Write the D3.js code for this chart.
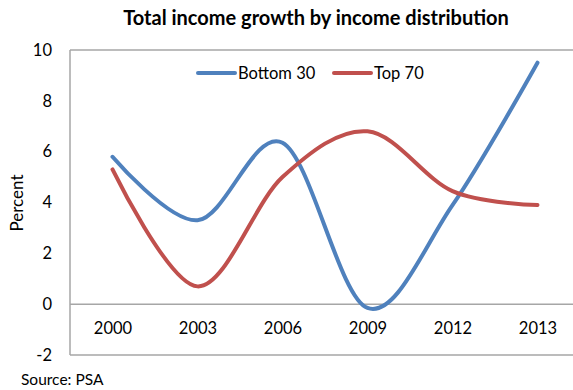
<!DOCTYPE html>
<html>
<head>
<meta charset="utf-8">
<script src="https://cdn.jsdelivr.net/npm/d3@7"></script>
<style>
  html, body { margin: 0; padding: 0; background: #fff; }
  svg { display: block; font-family: Lato, "Open Sans", sans-serif; }
</style>
</head>
<body>
<div id="chart"></div>
<script>
// Income growth (%) by year for the two distribution groups
const years = ["2000", "2003", "2006", "2009", "2012", "2013"];
const bottom30 = [5.8, 3.3, 6.35, -0.15, 3.9, 9.5];
const top70 = [5.3, 0.7, 5.0, 6.8, 4.45, 3.9];
const yTicks = [-2, 0, 2, 4, 6, 8, 10];
const seriesNames = ["Bottom 30", "Top 70"];
const seriesColors = ["#4F81BD", "#C0504D"];

const W = 573, H = 390;
const plot = { left: 70, right: 580, top: 50, bottom: 355 };
const labelSize = 16.5;

const svg = d3.select("#chart").append("svg")
  .attr("width", W).attr("height", H);

const x = d3.scalePoint().domain(years)
  .range([plot.left, plot.right]).padding(0.5);
const y = d3.scaleLinear().domain([-2, 10]).range([plot.bottom, plot.top]);

// Plot frame
const frame = svg.append("g").attr("stroke", "#a6a6a6").attr("stroke-width", 1.5).attr("fill", "none");
frame.append("line").attr("x1", plot.left).attr("x2", plot.right).attr("y1", plot.top).attr("y2", plot.top);
frame.append("line").attr("x1", plot.left).attr("x2", plot.right).attr("y1", plot.bottom).attr("y2", plot.bottom);
frame.append("line").attr("x1", plot.left).attr("x2", plot.left).attr("y1", plot.top).attr("y2", plot.bottom);
// Zero baseline acts as the category axis
frame.append("line").attr("x1", plot.left).attr("x2", plot.right).attr("y1", y(0)).attr("y2", y(0));

// Y axis labels (plain hyphen for negatives)
const yAxis = d3.axisLeft(y).tickValues(yTicks).tickFormat(d => String(d)).tickSize(0).tickPadding(18);
const yg = svg.append("g").attr("transform", `translate(${plot.left},0)`).call(yAxis);
yg.select(".domain").remove();
yg.selectAll("text").attr("font-size", labelSize).attr("fill", "#000").attr("font-family", "Lato, sans-serif");

// Category labels placed inside the plot, below the zero line
const xAxis = d3.axisBottom(x).tickSize(0).tickPadding(18);
const xg = svg.append("g").attr("transform", `translate(0,${y(0)})`).call(xAxis);
xg.select(".domain").remove();
xg.selectAll("text").attr("font-size", labelSize).attr("fill", "#000").attr("font-family", "Lato, sans-serif");

// Smoothed series lines
const line = d3.line()
  .x((d, i) => x(years[i]))
  .y(d => y(d))
  .curve(d3.curveCatmullRom.alpha(0));

[bottom30, top70].forEach((vals, k) => {
  svg.append("path")
    .datum(vals)
    .attr("d", line)
    .attr("fill", "none")
    .attr("stroke", seriesColors[k])
    .attr("stroke-width", 4)
    .attr("stroke-linecap", "round");
});

// Legend
const legendX = [198, 334];
legendX.forEach((lx, k) => {
  const g = svg.append("g").attr("transform", `translate(${lx},73)`);
  g.append("line").attr("x1", 0).attr("x2", 37).attr("y1", 0).attr("y2", 0)
    .attr("stroke", seriesColors[k]).attr("stroke-width", 4).attr("stroke-linecap", "round");
  g.append("text").attr("x", 40).attr("y", 6).attr("font-size", labelSize).attr("fill", "#000")
    .text(seriesNames[k]);
});

// Title
svg.append("text").attr("x", 316).attr("y", 25)
  .attr("text-anchor", "middle").attr("font-size", 20).attr("font-weight", "bold")
  .attr("fill", "#000").text("Total income growth by income distribution");

// Y axis title
svg.append("text").attr("transform", `translate(23,203) rotate(-90)`)
  .attr("text-anchor", "middle").attr("font-size", 17).attr("fill", "#000")
  .text("Percent");

// Source note
svg.append("text").attr("x", 21).attr("y", 385).attr("font-size", 15.5).attr("fill", "#000")
  .text("Source: PSA");
</script>
</body>
</html>
